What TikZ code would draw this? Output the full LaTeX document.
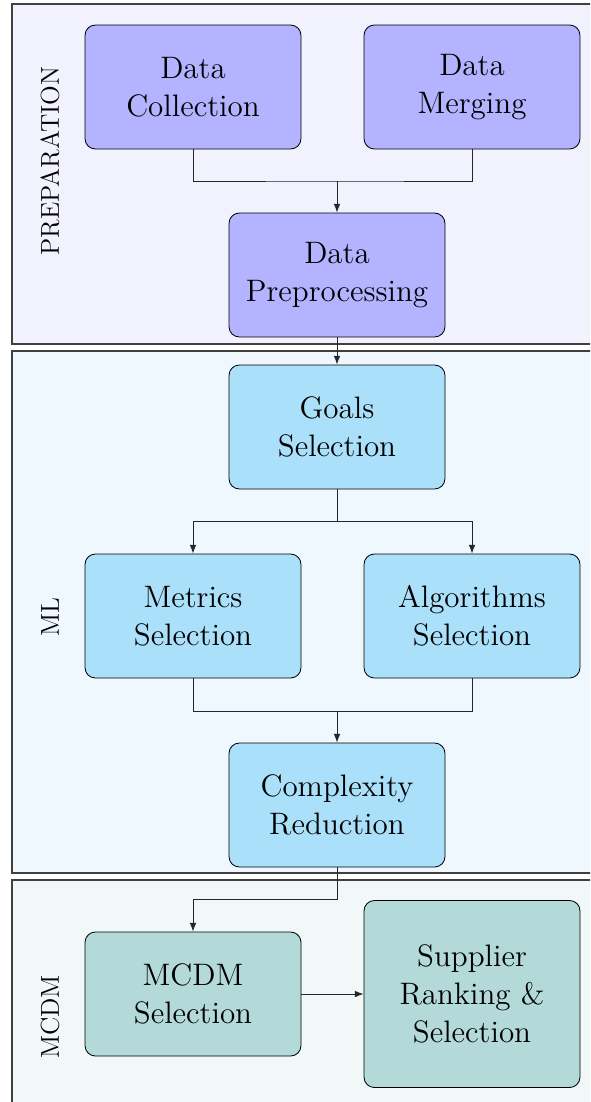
\documentclass[tikz,border=0pt]{standalone}
\usetikzlibrary{arrows.meta}
\definecolor{prepbg}{RGB}{242,242,255}
\definecolor{prepfill}{RGB}{179,179,255}
\definecolor{mlbg}{RGB}{240,248,255}
\definecolor{mlfill}{RGB}{170,224,250}
\definecolor{mcbg}{RGB}{240,248,248}
\definecolor{mcfill}{RGB}{179,217,217}
\begin{document}
\begin{tikzpicture}[x=0.48pt,y=-0.48pt,
 box/.style={draw=black, rounded corners=5pt, minimum width=103.68pt, minimum height=59.52pt, align=center, font=\fontsize{14.9}{18.3}\selectfont, inner sep=0pt},
 section/.style={draw=black!75, line width=0.55pt},
 lab/.style={rotate=90, font=\fontsize{12.4}{15}\selectfont},
 conn/.style={draw=black!85, line width=0.45pt},
 arr/.style={conn, -{Latex[length=4.2pt,width=3.2pt]}}]
\clip (0,0) rectangle (590,1102);
\fill[white] (0,0) rectangle (590,1102);
% sections
\draw[section, fill=prepbg] (12,4) rectangle (600,344);
\draw[section, fill=mlbg] (12,351) rectangle (600,873);
\draw[section, fill=mcbg] (12,880) rectangle (600,1110);
% labels
\node[lab] (l1) at (50,161) {PREPARATION};
\node[lab] (l2) at (50,617) {ML};
\node[lab] (l3) at (50,1017) {MCDM};
% nodes
\node[box, fill=prepfill] (dc) at (193,87) {Data\\Collection};
\node[box, fill=prepfill] (dm) at (472,87) {Data\\Merging};
\node[box, fill=prepfill] (dp) at (337,275) {Data\\Preprocessing};
\node[box, fill=mlfill] (gs) at (337,427) {Goals\\Selection};
\node[box, fill=mlfill] (ms) at (193,616) {Metrics\\Selection};
\node[box, fill=mlfill] (as) at (472,616) {Algorithms\\Selection};
\node[box, fill=mlfill] (cr) at (337,805) {Complexity\\Reduction};
\node[box, fill=mcfill] (mc) at (193,994) {MCDM\\Selection};
\node[box, fill=mcfill, minimum height=89.76pt] (sr) at (472,994) {Supplier\\Ranking \&\\Selection};
% junctions
\coordinate (j1) at (337,181);
\coordinate (j2) at (337,521);
\coordinate (j3) at (337,711);
\coordinate (j4) at (337,899);
% connectors
\draw[conn] (dc.south) |- (j1) -| (dm.south);
\draw[arr] (j1) -- (dp.north);
\draw[arr] (dp.south) -- (gs.north);
\draw[conn] (gs.south) -- (j2);
\draw[arr] (j2) -| (ms.north);
\draw[arr] (j2) -| (as.north);
\draw[conn] (ms.south) |- (j3) -| (as.south);
\draw[arr] (j3) -- (cr.north);
\draw[arr] (cr.south) |- (j4) -| (mc.north);
\draw[arr] (mc.east) -- (sr.west);
\end{tikzpicture}
\end{document}
